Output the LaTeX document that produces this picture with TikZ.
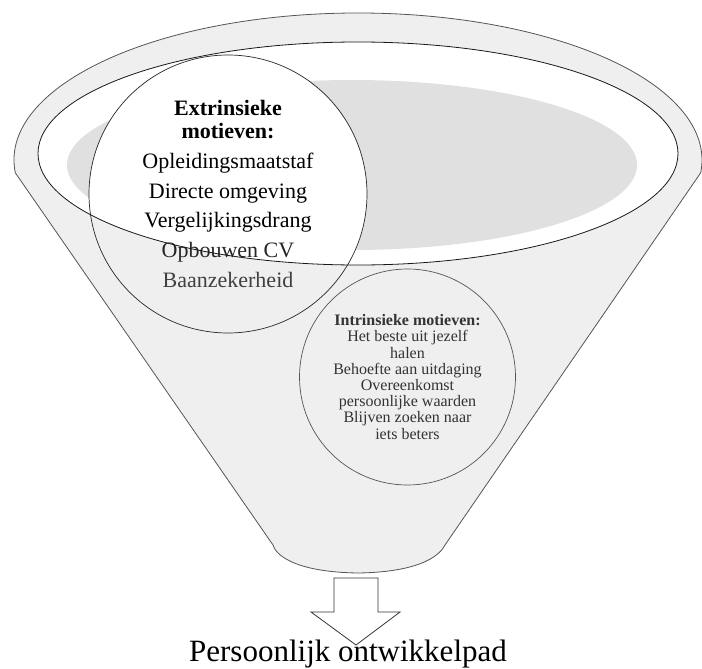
\documentclass[tikz,border=0pt]{standalone}
\usepackage{fontspec}
\setmainfont{Liberation Serif}
\usetikzlibrary{positioning}

\definecolor{funnelgray}{HTML}{EFEFEF}
\definecolor{poolgray}{HTML}{E0E0E0}
\definecolor{rimline}{HTML}{555555}

% outline of the funnel (top arc, sides, rounded bottom)
\newcommand{\funnelpath}{(15.3,172.8) arc[start angle=175, end angle=365, x radius=344, y radius=147]
  -- (445,545) .. controls (441,553) and (425,572) .. (358,573)
  .. controls (291,572) and (275,553) .. (273,545) -- cycle}
\newcommand{\rimpath}{(358,153.5) ellipse[x radius=320, y radius=111.5]}

\tikzset{
  motive/.style={circle, inner sep=0pt, align=center},
  outlinearrow/.style={draw=black!80, line width=0.8pt, fill=white, line join=miter}
}

\begin{document}
\begin{tikzpicture}[x=1pt, y=-1pt]
  \useasboundingbox (0,0) rectangle (702,669);
  % funnel body, white rim and the grey pool inside
  \fill[funnelgray] \funnelpath;
  \draw[rimline, line width=0.8pt] \funnelpath;
  \fill[white] \rimpath;
  \fill[poolgray] (352,165) ellipse[x radius=285, y radius=85];
  \begin{scope}
    \clip \rimpath;
    \fill[white] (228,195) circle[radius=139];
  \end{scope}
  % extrinsic motives
  \node[motive, draw=black!85, line width=0.7pt, minimum size=278,
        font=\fontsize{22}{29.75}\selectfont] (extr) at (228,194) {%
    \textbf{Extrinsieke}\\[-6.75pt]
    \textbf{motieven:}\\
    Opleidingsmaatstaf\\
    Directe omgeving\\
    Vergelijkingsdrang\\
    {\color{black!85}Opbouwen CV}\\
    {\color{black!75}Baanzekerheid}};
  \draw[black!90, line width=0.8pt] \rimpath;
  % intrinsic motives
  \node[motive, draw=rimline, line width=0.7pt, minimum size=216, text=black!80,
        font=\fontsize{16}{16.2}\selectfont] (intr) at (407.5,377) {%
    \textbf{Intrinsieke motieven:}\\
    Het beste uit jezelf\\
    halen\\
    Behoefte aan uitdaging\\
    Overeenkomst\\
    persoonlijke waarden\\
    Blijven zoeken naar\\
    iets beters};
  % outcome
  \coordinate (tip) at (356,645);
  \draw[outlinearrow] (334,578) -- (378,578) -- (378,612) -- (400,612) -- (tip)
    -- (311,612) -- (334,612) -- cycle;
  \node[anchor=base, inner sep=0pt, font=\fontsize{31}{35}\selectfont] (pad) at (348,661.5)
    {Persoonlijk ontwikkelpad};
\end{tikzpicture}
\end{document}
